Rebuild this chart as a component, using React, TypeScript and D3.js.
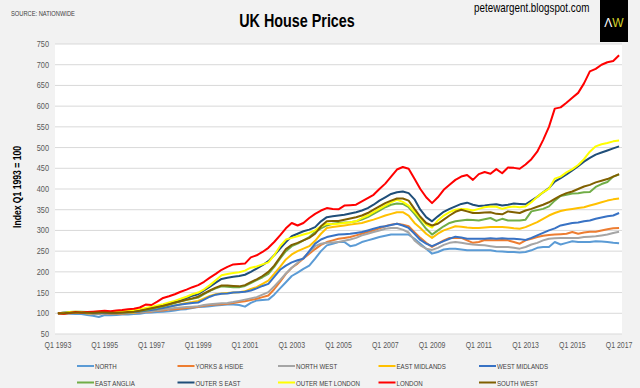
import React from 'react';
import * as d3 from 'd3';

// Nationwide regional house price index, quarterly, Q1 1993 = 100
const north = [
  100, 99, 99, 98, 98, 96, 94, 91,
  96, 95, 96, 97, 97, 98, 99, 101,
  102, 103, 104, 105, 107, 109, 110, 113,
  115, 116, 117, 119, 120, 121, 121, 120,
  116, 125, 131, 132, 133, 145, 160, 175,
  190, 198, 207, 215, 232, 250, 264, 268,
  272, 272, 262, 265, 272, 276, 280, 284,
  287, 290, 290, 290, 290, 280, 268, 256,
  244, 248, 254, 256, 256, 254, 252, 252,
  252, 252, 252, 250, 249, 248, 248, 247,
  248, 252, 258, 260, 260, 272, 266, 270,
  274, 272, 272, 272, 274, 273, 272, 270,
  269,
];
const yorks = [
  100, 99, 100, 101, 101, 100, 99, 99,
  100, 99, 99, 99, 100, 101, 102, 103,
  104, 106, 107, 109, 110, 111, 113, 114,
  116, 118, 120, 121, 122, 123, 125, 127,
  129, 132, 135, 139, 143, 158, 176, 195,
  210, 220, 232, 244, 255, 265, 272, 276,
  280, 282, 284, 288, 292, 296, 300, 305,
  310, 314, 316, 314, 310, 296, 282, 270,
  260, 268, 276, 282, 282, 282, 276, 270,
  272, 277, 276, 276, 277, 276, 272, 268,
  276, 280, 284, 287, 289, 290, 291, 292,
  296, 292, 295, 297, 297, 300, 303, 305,
  306,
];
const northWest = [
  100, 100, 101, 101, 101, 100, 99, 99,
  100, 100, 100, 100, 101, 102, 103, 104,
  105, 107, 109, 111, 113, 114, 115, 116,
  117, 120, 122, 123, 124, 125, 127, 130,
  133, 136, 139, 145, 151, 165, 180, 196,
  210, 222, 234, 248, 262, 268, 270, 271,
  272, 275, 278, 282, 288, 292, 296, 300,
  304, 306, 306, 302, 295, 276, 264, 256,
  253, 258, 265, 270, 272, 270, 268, 266,
  265, 264, 262, 260, 260, 260, 258, 256,
  260, 266, 270, 276, 280, 281, 282, 282,
  282, 282, 284, 285, 286, 288, 290, 294,
  297,
];
const eastMidlands = [
  100, 100, 101, 102, 101, 100, 100, 100,
  101, 100, 100, 101, 101, 102, 104, 106,
  108, 110, 113, 116, 119, 122, 125, 127,
  130, 136, 142, 146, 148, 149, 150, 151,
  153, 159, 163, 171, 179, 195, 212, 230,
  242, 250, 256, 262, 275, 292, 306, 308,
  310, 312, 314, 316, 318, 322, 326, 331,
  336, 340, 344, 344, 336, 318, 306, 292,
  282, 292, 300, 305, 310, 309, 307, 306,
  306, 307, 308, 308, 308, 307, 305, 304,
  308, 314, 320, 328, 336, 342, 347, 350,
  352, 354, 356, 360, 364, 368, 372, 375,
  377,
];
const westMidlands = [
  100, 101, 102, 103, 102, 101, 100, 100,
  101, 100, 100, 101, 102, 103, 104, 106,
  108, 110, 113, 116, 119, 121, 123, 125,
  126, 133, 140, 145, 147, 148, 150, 151,
  152, 155, 160, 166, 171, 188, 205, 215,
  223, 228, 232, 250, 268, 278, 284, 287,
  290, 291, 292, 294, 296, 300, 304, 308,
  310, 313, 316, 312, 306, 292, 277, 268,
  262, 268, 274, 280, 285, 283, 280, 280,
  280, 280, 281, 280, 281, 280, 280, 279,
  277, 282, 288, 294, 300, 305, 312, 315,
  318, 319, 322, 324, 328, 331, 334, 336,
  342,
];
const eastAnglia = [
  100, 101, 103, 104, 104, 103, 102, 102,
  103, 102, 101, 102, 103, 104, 106, 108,
  111, 114, 117, 121, 125, 129, 132, 135,
  138, 146, 154, 160, 165, 164, 163, 163,
  166, 173, 180, 187, 195, 212, 232, 250,
  262, 268, 276, 284, 296, 305, 312, 316,
  318, 319, 320, 322, 326, 332, 340, 348,
  356, 362, 365, 364, 356, 340, 322, 304,
  290, 300, 310, 318, 322, 324, 326, 325,
  324, 327, 330, 323, 328, 324, 324, 324,
  326, 346, 349, 352, 358, 372, 383, 386,
  389, 390, 392, 393, 405, 412, 417, 430,
  435,
];
const outerSouthEast = [
  100, 101, 102, 103, 103, 102, 102, 103,
  103, 102, 102, 103, 104, 106, 108, 111,
  114, 117, 120, 124, 128, 132, 137, 142,
  146, 155, 164, 174, 183, 186, 188, 190,
  193, 200, 208, 216, 226, 240, 256, 272,
  286, 292, 298, 302, 308, 322, 332, 334,
  336, 338, 341, 344, 348, 354, 362, 372,
  380, 388, 392, 394, 390, 375, 350, 332,
  322, 334, 345, 352, 358, 364, 367, 362,
  359, 360, 362, 363, 360, 362, 365, 364,
  363, 372, 381, 392, 402, 418, 426, 435,
  445, 455, 466, 475, 483, 488, 493, 498,
  503,
];
const outerMetLondon = [
  100, 101, 103, 104, 103, 102, 103, 104,
  104, 103, 104, 105, 106, 108, 110, 113,
  116, 119, 122, 126, 130, 135, 140, 146,
  150, 158, 168, 180, 192, 195, 197, 199,
  203, 210, 213, 218, 223, 240, 262, 278,
  282, 286, 290, 294, 300, 310, 316, 315,
  316, 318, 320, 322, 330, 336, 344, 352,
  360, 368, 374, 369, 360, 345, 330, 314,
  307, 324, 336, 344, 350, 352, 351, 348,
  352, 356, 358, 357, 352, 356, 358, 356,
  358, 368, 381, 392, 401, 425, 430, 440,
  448, 458, 472, 490, 503, 508, 511, 515,
  517,
];
const london = [
  100, 99, 101, 103, 102, 103, 104, 105,
  106, 105, 107, 108, 110, 111, 114, 121,
  120, 128, 137, 141, 146, 152, 157, 163,
  168, 176, 186, 195, 205, 212, 218, 219,
  220, 235, 240, 248, 258, 272, 288, 305,
  318, 312, 318, 330, 340, 348, 354, 352,
  351, 360, 361, 362, 370, 378, 386, 400,
  413, 430, 447, 453, 449, 425, 400, 380,
  366, 380, 398, 410, 422, 430, 434, 422,
  436, 441, 437, 448, 438, 452, 451, 449,
  459, 472, 490, 518, 550, 594, 597, 608,
  620, 632, 655, 684, 690, 700, 706, 709,
  723,
];
const southWest = [
  100, 100, 101, 102, 102, 101, 101, 102,
  102, 101, 101, 102, 103, 104, 106, 109,
  112, 115, 118, 122, 126, 129, 133, 136,
  140, 148, 155, 162, 167, 167, 166, 165,
  168, 175, 182, 190, 200, 215, 235, 255,
  265, 270, 276, 282, 292, 310, 322, 323,
  323, 326, 329, 332, 336, 342, 350, 358,
  366, 372, 377, 377, 372, 352, 333, 318,
  312, 316, 326, 336, 345, 350, 346, 342,
  342, 343, 344, 340, 339, 346, 344, 342,
  348, 352, 357, 362, 368, 376, 384, 390,
  394, 400, 406, 410, 416, 420, 424, 430,
  436,
];

const seriesNames = [
  'NORTH', 'YORKS & HSIDE', 'NORTH WEST', 'EAST MIDLANDS', 'WEST MIDLANDS',
  'EAST ANGLIA', 'OUTER S EAST', 'OUTER MET LONDON', 'LONDON', 'SOUTH WEST',
];
const seriesValues = [
  north, yorks, northWest, eastMidlands, westMidlands,
  eastAnglia, outerSouthEast, outerMetLondon, london, southWest,
];
const seriesColors = [
  '#5b9bd5', '#ed7d31', '#a5a5a5', '#ffc000', '#3872c4',
  '#70ad47', '#1f4e79', '#ffff00', '#ff0000', '#806000',
];

const xTickLabels = [
  'Q1 1993', 'Q1 1995', 'Q1 1997', 'Q1 1999', 'Q1 2001', 'Q1 2003', 'Q1 2005',
  'Q1 2007', 'Q1 2009', 'Q1 2011', 'Q1 2013', 'Q1 2015', 'Q1 2017',
];
const yTicks = d3.range(50, 751, 50);

// quarter categories Q1 1993 .. Q1 2017
const quarters: string[] = [];
for (let y = 1993; y <= 2017; y++) {
  for (let q = 1; q <= 4; q++) {
    if (y === 2017 && q > 1) break;
    quarters.push(`Q${q} ${y}`);
  }
}

const W = 640;
const H = 388;
const plot = { left: 55, right: 622, top: 44, bottom: 334 };
const sans = '"Liberation Sans", Arial, sans-serif';

// no narrow face installed, so squeeze Liberation Sans horizontally
const NarrowText = ({ x, y, size, anchor = 'start', weight = 'normal', fill = '#000', rotate = 0, children }: any) => (
  <text
    transform={`translate(${x},${y}) rotate(${rotate}) scale(0.82,1)`}
    textAnchor={anchor}
    fontFamily={sans}
    fontSize={size}
    fontWeight={weight}
    fill={fill}
  >
    {children}
  </text>
);

const App = () => {
  const x = d3.scalePoint<string>().domain(quarters).range([plot.left, plot.right]).padding(0.5);
  const y = d3.scaleLinear().domain([50, 750]).range([plot.bottom, plot.top]);

  const line = d3
    .line<number>()
    .x((d, i) => x(quarters[i]) as number)
    .y((d) => y(d));

  return (
    <svg
      width={W}
      height={H}
      style={{ position: 'absolute', left: 0, top: 0, background: '#f2f2f2' }}
    >
      <rect x={0} y={0} width={W} height={H} fill="#f2f2f2" />
      <rect
        x={plot.left}
        y={plot.top}
        width={plot.right - plot.left}
        height={plot.bottom - plot.top}
        fill="#ffffff"
      />

      {/* gridlines + y tick labels */}
      {yTicks.map((t) => (
        <g key={t}>
          <line x1={plot.left} x2={plot.right} y1={y(t)} y2={y(t)} stroke="#d9d9d9" strokeWidth={1} />
          <NarrowText x={49} y={y(t) + 3} size={9} anchor="end" fill="#595959">
            {t}
          </NarrowText>
        </g>
      ))}

      {/* x tick labels */}
      {xTickLabels.map((lbl) => (
        <NarrowText key={lbl} x={x(lbl) as number} y={348} size={8.5} anchor="middle" fill="#595959">
          {lbl}
        </NarrowText>
      ))}

      {/* series */}
      {seriesValues.map((vals, k) => (
        <path
          key={seriesNames[k]}
          d={line(vals) ?? ''}
          fill="none"
          stroke={seriesColors[k]}
          strokeWidth={2}
          strokeLinejoin="round"
        />
      ))}

      {/* titles */}
      <NarrowText x={11} y={16} size={7} fill="#404040">
        SOURCE: NATIONWIDE
      </NarrowText>
      <NarrowText x={297} y={27} size={17.5} anchor="middle" weight="bold">
        UK House Prices
      </NarrowText>
      <NarrowText x={474} y={12} size={12}>
        petewargent.blogspot.com
      </NarrowText>
      <rect x={600} y={0} width={28} height={42} fill="#000000" />
      <text x={614} y={27} textAnchor="middle" fontFamily={sans} fontSize={12}>
        <tspan fill="#ffffff">Λ</tspan>
        <tspan fill="#d4d42a">W</tspan>
      </text>
      <NarrowText x={21} y={187} size={10.5} anchor="middle" weight="bold" rotate={-90}>
        Index Q1 1993 = 100
      </NarrowText>

      {/* legend */}
      {seriesNames.map((name, k) => {
        const col = k % 5;
        const row = Math.floor(k / 5);
        const lx = 77 + col * 100.5;
        const ly = 366 + row * 16.5;
        return (
          <g key={name}>
            <line x1={lx} x2={lx + 17} y1={ly} y2={ly} stroke={seriesColors[k]} strokeWidth={2} />
            <NarrowText x={lx + 18} y={ly + 3} size={7.5} fill="#404040">
              {name}
            </NarrowText>
          </g>
        );
      })}
    </svg>
  );
};

export default App;
